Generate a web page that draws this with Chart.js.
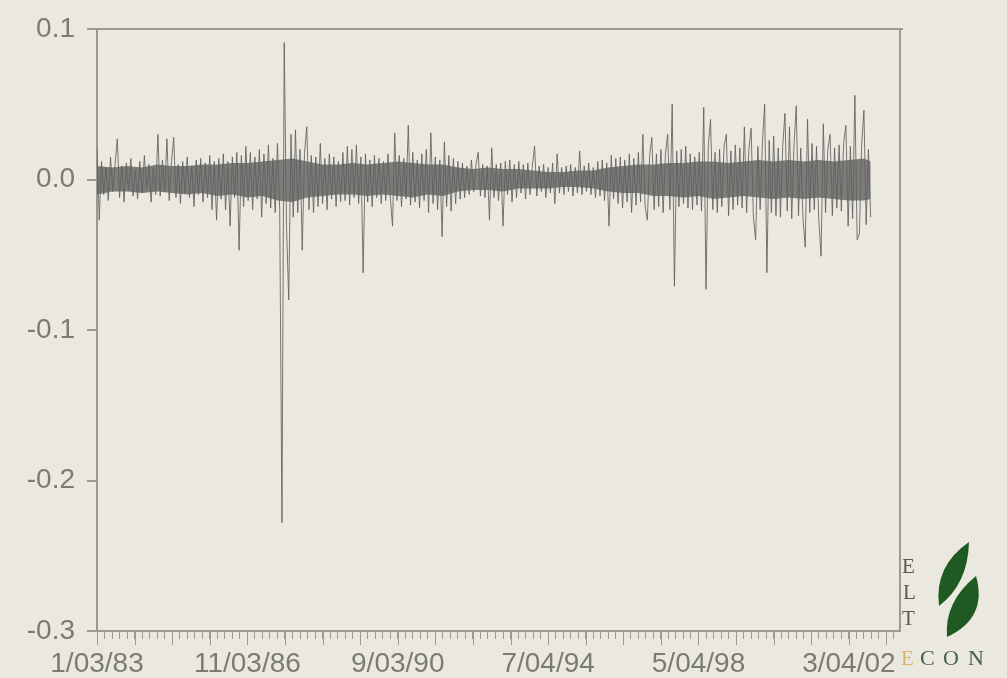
<!DOCTYPE html>
<html>
<head>
<meta charset="utf-8">
<title>Daily returns 1983-2002</title>
<script src="https://cdn.jsdelivr.net/npm/chart.js@4.4.1/dist/chart.umd.min.js"></script>
<style>
  html, body { margin: 0; padding: 0; background: #ebe9df; }
  canvas { display: block; }
</style>
</head>
<body>
<canvas id="returns" width="1007" height="678"></canvas>
<script>
// observation spacing of the sampled series (trading days)
const obsStep = 15;

const returns = [
  0.021, -0.027, 0.012, -0.010, 0.008, -0.014, 0.015, -0.008, 0.010,
  0.027, -0.012, 0.009, -0.015, 0.011, -0.007, 0.014, -0.011, 0.006,
  -0.013, 0.012, -0.009, 0.016, -0.006, 0.010, -0.015, 0.008, -0.010,
  0.030, -0.011, 0.013, -0.008, 0.027, -0.014, 0.011, 0.028, -0.012,
  0.010, -0.016, 0.012, -0.009, 0.015, -0.012, 0.009, -0.018, 0.013,
  -0.010, 0.014, -0.015, 0.011, -0.012, 0.016, -0.020, 0.012, -0.027,
  0.014, -0.013, 0.017, -0.020, 0.012, -0.031, 0.015, -0.012, 0.018,
  -0.047, 0.016, -0.018, 0.022, -0.014, 0.018, -0.020, 0.015, -0.013,
  0.020, -0.025, 0.017, -0.016, 0.023, -0.019, 0.014, -0.022, 0.024,
  -0.020, -0.228, 0.091, -0.030, -0.080, 0.030, -0.025, 0.033, -0.022,
  0.020, -0.047, 0.018, 0.035, -0.020, 0.016, -0.022, 0.015, -0.018,
  0.024, -0.016, 0.014, -0.020, 0.017, -0.013, 0.015, -0.018, 0.012,
  -0.015, 0.018, -0.014, 0.022, -0.017, 0.020, -0.012, 0.023, -0.016,
  0.015, -0.062, 0.017, -0.015, 0.013, -0.018, 0.016, -0.012, 0.014,
  -0.016, 0.012, -0.014, 0.017, -0.011, -0.031, 0.031, -0.014, 0.016,
  -0.018, 0.014, -0.013, 0.036, -0.017, 0.018, -0.015, 0.013, -0.019,
  0.017, -0.014, 0.020, -0.022, 0.031, -0.016, 0.015, -0.020, 0.013,
  -0.038, 0.025, -0.018, 0.016, -0.021, 0.014, -0.016, 0.012, -0.013,
  0.011, -0.012, 0.009, -0.010, 0.013, -0.008, 0.010, 0.018, -0.011,
  0.010, -0.012, 0.009, -0.027, 0.021, -0.012, 0.010, -0.014,
  0.011, -0.031, 0.012, -0.010, 0.013, -0.015, 0.010, -0.012,
  0.012, -0.009, 0.010, -0.013, 0.011, -0.010, 0.009, 0.022, -0.011,
  0.009, -0.008, 0.010, -0.012, 0.008, -0.009, 0.011, -0.016,
  0.017, -0.009, 0.008, -0.010, 0.009, -0.008, 0.010, -0.011, 0.008,
  -0.009, 0.019, -0.010, 0.009, -0.008, 0.011, -0.010, 0.008, -0.012,
  0.012, -0.011, 0.013, -0.014, 0.011, -0.031, 0.016, -0.013, 0.014,
  -0.016, 0.015, -0.019, 0.013, -0.015, 0.017, -0.022, 0.014, -0.017,
  0.018, -0.015, 0.030, -0.018, -0.027, 0.016, 0.028, -0.020, 0.017,
  -0.018, 0.020, -0.022, 0.017, 0.030, -0.020, 0.050, -0.071, 0.019,
  -0.018, 0.020, -0.016, 0.022, -0.019, 0.017, -0.020, 0.015, -0.017,
  0.018, -0.021, 0.048, -0.073, 0.022, 0.040, -0.020, 0.018, -0.022,
  0.020, -0.018, 0.022, 0.030, -0.024, 0.019, -0.020, 0.023, -0.017,
  0.021, -0.019, 0.035, -0.022, 0.020, 0.034, -0.025, -0.040, 0.022,
  -0.020, 0.024, 0.050, -0.062, 0.026, -0.022, 0.029, -0.024, 0.021,
  -0.025, 0.022, 0.044, -0.021, 0.035, -0.026, 0.023, 0.049, -0.024,
  0.021, -0.026, -0.045, 0.040, -0.022, 0.024, -0.020, 0.022, -0.027,
  -0.051, 0.037, -0.022, 0.020, 0.030, -0.024, 0.021, -0.019, 0.023,
  -0.021, 0.024, 0.036, -0.031, 0.022, -0.026, 0.056, -0.040,
  -0.036, 0.023, 0.046, -0.030, 0.020, -0.025
];

// dense core of the band (where most days sit), every 100 observations
const coreObs = [0, 100, 200, 300, 400, 500, 600, 700, 800, 900, 1000, 1100, 1200, 1300, 1400,
  1500, 1600, 1700, 1800, 1900, 2000, 2100, 2200, 2300, 2400, 2500, 2600, 2700, 2800, 2900,
  3000, 3100, 3200, 3300, 3400, 3500, 3600, 3700, 3800, 3900, 4000, 4100, 4200, 4300, 4400,
  4500, 4600, 4700, 4800, 4900, 5000, 5100, 5145];
const coreHigh = [0.009, 0.008, 0.009, 0.008, 0.010, 0.009, 0.009, 0.010, 0.010, 0.011, 0.011, 0.012, 0.013, 0.014, 0.012,
  0.010, 0.010, 0.011, 0.010, 0.011, 0.012, 0.011, 0.010, 0.010, 0.008, 0.007, 0.008, 0.007, 0.007, 0.006,
  0.005, 0.005, 0.006, 0.006, 0.008, 0.009, 0.010, 0.010, 0.011, 0.011, 0.012, 0.012, 0.011, 0.012, 0.013,
  0.012, 0.013, 0.012, 0.013, 0.012, 0.013, 0.014, 0.012];
const coreLow = [-0.010, -0.008, -0.008, -0.009, -0.008, -0.009, -0.010, -0.009, -0.011, -0.010, -0.012, -0.011, -0.014, -0.015, -0.012,
  -0.011, -0.010, -0.010, -0.011, -0.010, -0.011, -0.012, -0.010, -0.011, -0.008, -0.007, -0.007, -0.008, -0.006, -0.006,
  -0.006, -0.005, -0.005, -0.006, -0.008, -0.009, -0.009, -0.011, -0.011, -0.012, -0.011, -0.013, -0.012, -0.011, -0.012,
  -0.013, -0.012, -0.013, -0.012, -0.013, -0.014, -0.014, -0.013];

// axis labels
const xTickObs = [0, 1000, 2000, 3000, 4000, 5000];
const xTickLabels = ['1/03/83', '11/03/86', '9/03/90', '7/04/94', '5/04/98', '3/04/02'];
const yTicks = [0.1, 0.0, -0.1, -0.2, -0.3];
const yTickLabels = ['0.1', '0.0', '-0.1', '-0.2', '-0.3'];

const axisGray = '#9a9a90';
const textGray = '#7b7b76';
const labelFont = { family: "'Liberation Sans', Arial, sans-serif", size: 28 };

// minor ticks every 50 obs, longer ones every 250
const minorStep = 50;
const majorStep = 250;
const xMax = 5340;

const linePoints = returns.map((v, i) => ({ x: i * obsStep, y: v }));
const highPoints = coreObs.map((o, i) => ({ x: o, y: coreHigh[i] }));
const lowPoints = coreObs.map((o, i) => ({ x: o, y: coreLow[i] }));

// soften the series a little, like the scanned original
const softPlugin = {
  id: 'soft',
  beforeDatasetsDraw(chart) {
    chart.ctx.save();
    chart.ctx.filter = 'blur(0.6px)';
  },
  afterDatasetsDraw(chart) {
    chart.ctx.restore();
  }
};

// frame (top + right), long x ticks, and the corner logo
const framePlugin = {
  id: 'frame',
  afterDraw(chart) {
    const { ctx, chartArea: a, scales } = chart;
    ctx.save();
    ctx.strokeStyle = axisGray;
    ctx.lineWidth = 2;
    ctx.beginPath();
    ctx.moveTo(a.left - 10, a.top);
    ctx.lineTo(a.right + 3, a.top);
    ctx.moveTo(a.right, a.top);
    ctx.lineTo(a.right, a.bottom);
    ctx.stroke();

    ctx.lineWidth = 1;
    ctx.beginPath();
    for (let v = 0; v <= xMax; v += majorStep) {
      const px = Math.round(scales.x.getPixelForValue(v)) + 0.5;
      ctx.moveTo(px, a.bottom);
      ctx.lineTo(px, a.bottom + 14);
    }
    ctx.stroke();

    // logo
    ctx.textAlign = 'left';
    ctx.textBaseline = 'alphabetic';
    ctx.font = "21px 'Liberation Serif', 'DejaVu Serif', serif";
    ctx.fillStyle = '#5a5a55';
    ctx.fillText('E', 902, 573);
    ctx.fillText('L', 903, 599);
    ctx.fillText('T', 902, 625);
    ctx.fillStyle = '#d8b468';
    ctx.fillText('E', 901, 665);
    ctx.fillStyle = '#46604a';
    ctx.font = "22px 'Liberation Serif', 'DejaVu Serif', serif";
    ctx.fillText('C', 920, 665);
    ctx.fillText('O', 943, 665);
    ctx.fillText('N', 968, 665);

    ctx.fillStyle = '#1f5a22';
    ctx.beginPath();
    ctx.moveTo(969, 542);
    ctx.quadraticCurveTo(934, 566, 939, 606);
    ctx.quadraticCurveTo(968, 584, 969, 542);
    ctx.fill();
    ctx.beginPath();
    ctx.moveTo(976, 576);
    ctx.quadraticCurveTo(988, 618, 947, 637);
    ctx.quadraticCurveTo(944, 602, 976, 576);
    ctx.fill();
    ctx.restore();
  }
};

const ctx = document.getElementById('returns').getContext('2d');
const returnsChart = new Chart(ctx, {
  type: 'line',
  data: {
    datasets: [
      {
        label: 'Returns',
        data: linePoints,
        borderColor: 'rgba(95, 95, 95, 0.85)',
        borderWidth: 1,
        pointRadius: 0,
        tension: 0,
        fill: false
      },
      {
        label: 'Core high',
        data: highPoints,
        borderWidth: 0,
        borderColor: 'rgba(0,0,0,0)',
        backgroundColor: 'rgba(105, 105, 103, 0.85)',
        pointRadius: 0,
        fill: '+1'
      },
      {
        label: 'Core low',
        data: lowPoints,
        borderWidth: 0,
        borderColor: 'rgba(0,0,0,0)',
        pointRadius: 0,
        fill: false
      }
    ]
  },
  options: {
    responsive: false,
    animation: false,
    events: [],
    layout: { padding: { top: 29, right: 107, left: 0, bottom: 0 } },
    plugins: {
      legend: { display: false },
      tooltip: { enabled: false }
    },
    scales: {
      x: {
        type: 'linear',
        min: 0,
        max: xMax,
        afterBuildTicks: (axis) => {
          const t = [];
          for (let v = 0; v <= xMax; v += minorStep) t.push({ value: v });
          axis.ticks = t;
        },
        afterFit: (axis) => { axis.height = 47; },
        ticks: {
          autoSkip: false,
          maxRotation: 0,
          padding: 8,
          color: textGray,
          font: labelFont,
          callback: (v) => {
            const k = xTickObs.indexOf(v);
            return k >= 0 ? xTickLabels[k] : '';
          }
        },
        grid: {
          drawOnChartArea: false,
          tickLength: 8,
          color: axisGray,
          lineWidth: 1
        },
        border: { display: true, color: axisGray, width: 2 }
      },
      y: {
        min: -0.3,
        max: 0.1,
        afterBuildTicks: (axis) => { axis.ticks = yTicks.map(v => ({ value: v })); },
        afterFit: (axis) => { axis.width = 97; },
        ticks: {
          padding: 12,
          color: textGray,
          font: labelFont,
          callback: (v, i) => yTickLabels[i]
        },
        grid: {
          drawOnChartArea: false,
          tickLength: 10,
          color: axisGray,
          lineWidth: 2
        },
        border: { display: true, color: axisGray, width: 2 }
      }
    }
  },
  plugins: [softPlugin, framePlugin]
});
</script>
</body>
</html>
